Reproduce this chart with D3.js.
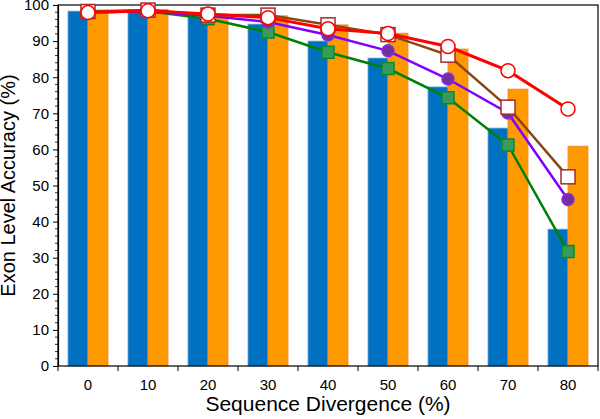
<!DOCTYPE html>
<html><head><meta charset="utf-8">
<script src="https://cdn.jsdelivr.net/npm/d3@7"></script>
<style>body{margin:0;background:#fff}svg{display:block;font-family:"Liberation Sans",Arial,sans-serif}</style>
</head><body><svg id="c" width="600" height="419"></svg>
<script>
const categories = [0, 10, 20, 30, 40, 50, 60, 70, 80];
const barBlue   = [98.3, 98.6, 96.7, 94.7, 90.0, 85.3, 77.3, 65.9, 37.9];
const barOrange = [98.6, 98.8, 97.5, 97.0, 94.5, 92.2, 87.8, 76.7, 60.9];
const lineGreen  = [98.0, 98.3, 96.2, 92.5, 86.9, 82.4, 74.3, 61.2, 31.7];
const linePurple = [98.0, 98.2, 97.0, 95.3, 91.7, 87.3, 79.5, 70.1, 46.1];
const lineBrown  = [98.2, 98.6, 97.2, 97.2, 94.5, 91.8, 86.1, 71.7, 52.4];
const lineRed    = [97.9, 98.4, 97.5, 96.5, 93.4, 92.1, 88.5, 81.8, 71.2];
const yTicks = [0, 10, 20, 30, 40, 50, 60, 70, 80, 90, 100];

const svg = d3.select("#c");
const L = 58, R = 598, T = 5, B = 366;
const x = d3.scaleBand().domain(categories).range([L, R]).paddingInner(0).paddingOuter(0);
const sub = d3.scaleBand().domain(["blue", "orange"]).range([0, x.bandwidth()]).paddingInner(0).paddingOuter(0.5);
const y = d3.scaleLinear().domain([0, 100]).range([B, T]);

// bars
const barSeries = [
  {key: "blue", vals: barBlue, fill: "#0070c0", stroke: "#6aa6d8"},
  {key: "orange", vals: barOrange, fill: "#ff9900", stroke: "#f0883a"}
];
barSeries.forEach(s => {
  svg.append("g").selectAll("rect").data(categories).join("rect")
    .attr("x", (d) => x(d) + sub(s.key))
    .attr("width", sub.bandwidth())
    .attr("y", (d, i) => y(s.vals[i]))
    .attr("height", (d, i) => y(0) - y(s.vals[i]))
    .attr("fill", s.fill).attr("stroke", s.stroke).attr("stroke-width", 0.8);
});

// frame
svg.append("rect").attr("x", L).attr("y", T).attr("width", R - L).attr("height", B - T)
  .attr("fill", "none").attr("stroke", "#000").attr("stroke-width", 1.2);

// lines
const cx = d => x(d) + x.bandwidth() / 2;
const lineSeries = [
  {vals: lineGreen, color: "#008000", marker: "square", size: 12, fill: "#3a9a5c", mstroke: "#0a8a2a", w: 2.5},
  {vals: linePurple, color: "#8000ff", marker: "circle", size: 12, fill: "#7030a0", mstroke: "#8a2be2", w: 2.5},
  {vals: lineBrown, color: "#8b4513", marker: "square", size: 14, fill: "#ffffff", mstroke: "#a52a2a", w: 2.5},
  {vals: lineRed, color: "#ff0000", marker: "circle", size: 14, fill: "#ffffff", mstroke: "#ff0000", w: 3}
];
const lineGen = d3.line();
lineSeries.forEach(s => {
  const pts = categories.map((c, i) => [cx(c), y(s.vals[i])]);
  const g = svg.append("g");
  g.append("path").attr("d", lineGen(pts)).attr("fill", "none")
    .attr("stroke", s.color).attr("stroke-width", s.w);
  if (s.marker === "circle") {
    g.selectAll("circle").data(pts).join("circle")
      .attr("cx", d => d[0]).attr("cy", d => d[1]).attr("r", s.size / 2)
      .attr("fill", s.fill).attr("stroke", s.mstroke).attr("stroke-width", 1.5);
  } else {
    g.selectAll("rect").data(pts).join("rect")
      .attr("x", d => d[0] - s.size / 2).attr("y", d => d[1] - s.size / 2)
      .attr("width", s.size).attr("height", s.size)
      .attr("fill", s.fill).attr("stroke", s.mstroke).attr("stroke-width", 1.5);
  }
});

// y axis
const yAxis = d3.axisLeft(y).tickValues(yTicks).tickSize(5).tickSizeOuter(0).tickPadding(4);
const gy = svg.append("g").attr("transform", `translate(${L},0)`).call(yAxis);
gy.select(".domain").attr("stroke", "#000").attr("stroke-width", 1.2);
gy.selectAll("text").attr("font-size", 15).attr("fill", "#000").attr("font-family", "Liberation Sans, Arial, sans-serif");
const minor = d3.range(0, 101, 2).filter(v => v % 10 !== 0);
svg.append("g").selectAll("line").data(minor).join("line")
  .attr("x1", L - 3).attr("x2", L).attr("y1", d => y(d)).attr("y2", d => y(d))
  .attr("stroke", "#000").attr("stroke-width", 0.8);

// x axis
const xAxis = d3.axisBottom(x).tickSize(0).tickPadding(13);
const gx = svg.append("g").attr("transform", `translate(0,${B})`).call(xAxis);
gx.select(".domain").remove();
gx.selectAll("text").attr("font-size", 15).attr("fill", "#000").attr("font-family", "Liberation Sans, Arial, sans-serif");
svg.append("g").selectAll("line").data(d3.range(categories.length + 1)).join("line")
  .attr("x1", i => L + i * x.step()).attr("x2", i => L + i * x.step())
  .attr("y1", B).attr("y2", B + 5).attr("stroke", "#000").attr("stroke-width", 1);

// titles
svg.append("text").attr("x", (L + R) / 2).attr("y", 411).attr("text-anchor", "middle")
  .attr("font-size", 21).attr("fill", "#000").text("Sequence Divergence (%)");
svg.append("text").attr("transform", `translate(15,${(T + B) / 2}) rotate(-90)`)
  .attr("text-anchor", "middle").attr("font-size", 20).attr("fill", "#000").text("Exon Level Accuracy (%)");
</script></body></html>
